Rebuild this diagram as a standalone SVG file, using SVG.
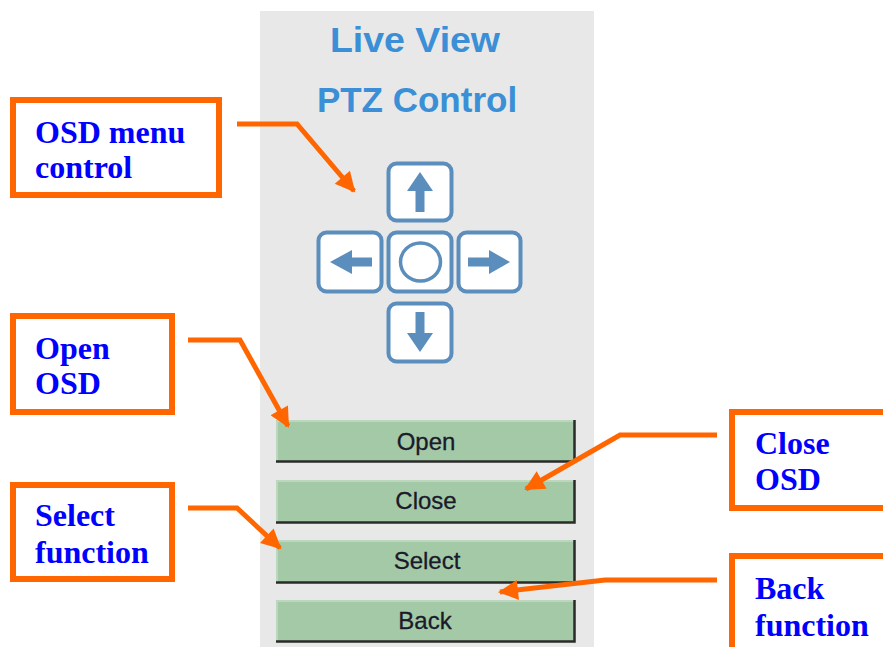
<svg xmlns="http://www.w3.org/2000/svg" width="883" height="647" viewBox="0 0 883 647">
<defs>
<style>
.panel{fill:#e8e8e8}
.title{font-family:"Liberation Sans",Arial,sans-serif;font-weight:bold;font-size:35px;fill:#3a8fd6;text-anchor:middle}
.key{fill:#fff;stroke:#5b8dbd;stroke-width:4}
.glyph{fill:#5b8dbd}
.btn{fill:#a4c9a7}
.btnedge{fill:none;stroke:#2a2a2a;stroke-width:2.5}
.btntop{fill:none;stroke:#c5dcc6;stroke-width:1.5}
.btntxt{font-family:"Liberation Sans",Arial,sans-serif;font-size:24px;fill:#1a1a2a;stroke:#1a1a2a;stroke-width:0.3;text-anchor:middle}
.lbl{fill:#fff;stroke:#ff6600;stroke-width:6}
.lbltxt{font-family:"Liberation Serif","Times New Roman",serif;font-weight:bold;font-size:32px;fill:#0000ff}
.conn{fill:none;stroke:#ff6600;stroke-width:5;stroke-linejoin:miter}
</style>
<marker id="ah" viewBox="0 0 10 10" refX="9" refY="5" markerWidth="4.6" markerHeight="4" markerUnits="strokeWidth" orient="auto">
<path d="M0,0 L10,5 L0,10 z" fill="#ff6600"/>
</marker>
</defs>
<rect class="panel" x="260" y="11" width="334" height="636"/>
<g id="title-liveview"><text class="title" x="415" y="52" textLength="170" lengthAdjust="spacingAndGlyphs">Live View</text></g>
<g id="title-ptz"><text class="title" x="417" y="112">PTZ Control</text></g>
<g id="key-up">
<rect class="key" x="388.5" y="163.5" width="63" height="57" rx="8"/>
<path class="glyph" d="M420,172 L433,191 L424.5,191 L424.5,212 L415.5,212 L415.5,191 L407,191 z"/>
</g>
<g id="key-left">
<rect class="key" x="318.5" y="232.5" width="63" height="59" rx="8"/>
<path class="glyph" d="M330,262 L352,250 L352,257.5 L372,257.5 L372,266.5 L352,266.5 L352,274 z"/>
</g>
<g id="key-center">
<rect class="key" x="388.5" y="232.5" width="63" height="59" rx="8"/>
<ellipse cx="420.5" cy="262" rx="20" ry="19" fill="none" stroke="#5b8dbd" stroke-width="3.5"/>
</g>
<g id="key-right">
<rect class="key" x="458.5" y="232.5" width="62" height="59" rx="8"/>
<path class="glyph" d="M510,262 L489,250 L489,257.5 L468,257.5 L468,266.5 L489,266.5 L489,274 z"/>
</g>
<g id="key-down">
<rect class="key" x="388.5" y="303.5" width="63" height="58" rx="8"/>
<path class="glyph" d="M420,352 L407,333 L415.5,333 L415.5,312 L424.5,312 L424.5,333 L433,333 z"/>
</g>
<g id="btn-open">
<rect class="btn" x="276" y="420" width="299" height="42"/>
<polyline class="btntop" points="277,461 277,421 574,421"/>
<polyline class="btnedge" points="276,461.5 574.5,461.5 574.5,420"/>
<text class="btntxt" x="426" y="450">Open</text>
</g>
<g id="btn-close">
<rect class="btn" x="276" y="480" width="299" height="43"/>
<polyline class="btntop" points="277,522 277,481 574,481"/>
<polyline class="btnedge" points="276,522.5 574.5,522.5 574.5,480"/>
<text class="btntxt" x="426" y="509">Close</text>
</g>
<g id="btn-select">
<rect class="btn" x="276" y="540" width="299" height="43"/>
<polyline class="btntop" points="277,582 277,541 574,541"/>
<polyline class="btnedge" points="276,582.5 574.5,582.5 574.5,540"/>
<text class="btntxt" x="427" y="569">Select</text>
</g>
<g id="btn-back">
<rect class="btn" x="276" y="600" width="299" height="42"/>
<polyline class="btntop" points="277,641 277,601 574,601"/>
<polyline class="btnedge" points="276,641.5 574.5,641.5 574.5,600"/>
<text class="btntxt" x="425" y="629">Back</text>
</g>
<g id="label-osd-menu">
<rect class="lbl" x="13" y="100" width="206" height="95"/>
<text class="lbltxt" x="35" y="143">OSD menu</text>
<text class="lbltxt" x="35" y="178">control</text>
</g>
<g id="label-open-osd">
<rect class="lbl" x="13" y="316" width="159" height="96"/>
<text class="lbltxt" x="35" y="359">Open</text>
<text class="lbltxt" x="35" y="394">OSD</text>
</g>
<g id="label-select">
<rect class="lbl" x="13" y="485" width="159" height="94"/>
<text class="lbltxt" x="35" y="526">Select</text>
<text class="lbltxt" x="35" y="563">function</text>
</g>
<g id="label-close-osd">
<rect class="lbl" x="732" y="412" width="200" height="96"/>
<text class="lbltxt" x="755" y="454">Close</text>
<text class="lbltxt" x="755" y="490">OSD</text>
</g>
<g id="label-back">
<rect class="lbl" x="732" y="556" width="200" height="120"/>
<text class="lbltxt" x="755" y="599">Back</text>
<text class="lbltxt" x="755" y="636">function</text>
</g>
<g id="connectors">
<polyline class="conn" marker-end="url(#ah)" points="237,124 297,124 354,191"/>
<polyline class="conn" marker-end="url(#ah)" points="188,340 240,340 288,426"/>
<polyline class="conn" marker-end="url(#ah)" points="188,508 237,508 280,548"/>
<polyline class="conn" marker-end="url(#ah)" points="717,435 620,435 526,489"/>
<polyline class="conn" marker-end="url(#ah)" points="717,580 605,580 500,592"/>
</g>
</svg>
